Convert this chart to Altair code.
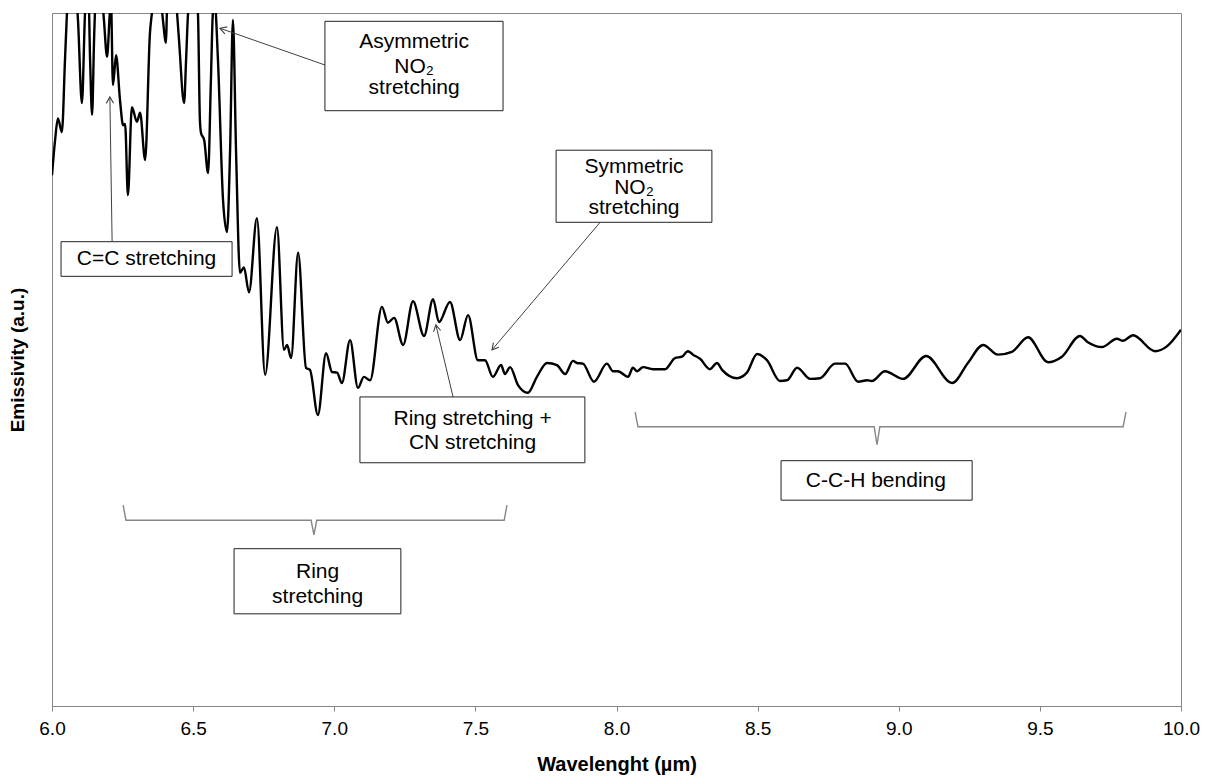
import altair as alt
import pandas as pd

# Emission spectrum: wavelength (µm) and emissivity (a.u., 0-100 scale)
wavelength = [
    6.000, 6.011, 6.021, 6.035, 6.046, 6.053, 6.071, 6.092, 6.106, 6.117,
    6.128, 6.135, 6.142, 6.149, 6.152, 6.167, 6.184, 6.195, 6.205, 6.209,
    6.216, 6.227, 6.241, 6.252, 6.259, 6.269, 6.283, 6.301, 6.312, 6.330,
    6.347, 6.354, 6.376, 6.393, 6.404, 6.407, 6.418, 6.432, 6.443, 6.450,
    6.468, 6.475, 6.482, 6.500, 6.517, 6.524, 6.528, 6.539, 6.553, 6.563,
    6.570, 6.577, 6.588, 6.606, 6.620, 6.631, 6.641, 6.652, 6.666, 6.680,
    6.698, 6.726, 6.755, 6.797, 6.822, 6.833, 6.847, 6.872, 6.900, 6.914,
    6.942, 6.971, 6.992, 7.010, 7.027, 7.056, 7.084, 7.105, 7.127, 7.169,
    7.190, 7.212, 7.244, 7.279, 7.318, 7.350, 7.371, 7.410, 7.446, 7.474,
    7.509, 7.534, 7.562, 7.591, 7.605, 7.623, 7.651, 7.686, 7.718, 7.754,
    7.789, 7.818, 7.846, 7.860, 7.881, 7.920, 7.966, 7.988, 8.005, 8.041,
    8.058, 8.073, 8.094, 8.129, 8.172, 8.207, 8.232, 8.253, 8.271, 8.296,
    8.331, 8.356, 8.374, 8.427, 8.462, 8.498, 8.533, 8.579, 8.604, 8.640,
    8.686, 8.721, 8.774, 8.810, 8.856, 8.888, 8.905, 8.951, 9.015, 9.097,
    9.189, 9.245, 9.299, 9.352, 9.401, 9.458, 9.529, 9.578, 9.642, 9.670,
    9.720, 9.773, 9.794, 9.830, 9.908, 9.950, 10.000,
]
emissivity = [
    76.6, 81.7, 84.8, 82.8, 93.2, 100.0, 107.6, 99.0, 87.0, 100.0,
    104.8, 93.2, 85.3, 96.1, 100.0, 107.6, 99.0, 93.7, 100.0, 101.5,
    89.6, 93.9, 87.4, 83.8, 84.0, 73.7, 86.4, 84.3, 85.6, 78.8,
    97.1, 100.0, 106.2, 99.0, 95.7, 100.0, 106.2, 104.8, 100.0, 96.1,
    87.0, 93.2, 100.0, 106.2, 100.0, 84.6, 82.7, 81.7, 76.9, 90.3,
    100.0, 101.2, 93.2, 73.0, 68.4, 80.2, 99.0, 80.2, 62.5, 63.3,
    59.7, 70.4, 47.8, 69.1, 51.4, 52.1, 50.2, 65.4, 48.8, 48.5,
    42.0, 50.9, 48.2, 48.1, 46.6, 52.8, 45.9, 47.5, 47.0, 57.6,
    55.3, 56.0, 52.1, 58.4, 53.4, 58.7, 55.4, 58.3, 52.8, 56.4,
    49.9, 49.9, 47.5, 49.2, 47.9, 48.9, 46.3, 45.2, 47.5, 49.5,
    49.2, 47.9, 49.8, 49.5, 49.4, 46.8, 49.4, 48.3, 48.3, 47.5,
    48.8, 48.3, 48.9, 48.6, 48.6, 50.2, 50.4, 51.2, 50.7, 50.1,
    48.6, 49.5, 48.5, 47.3, 48.1, 50.8, 49.9, 46.9, 47.0, 48.8,
    47.2, 47.3, 49.4, 49.4, 46.8, 47.0, 46.9, 48.3, 47.2, 50.5,
    46.6, 49.5, 52.1, 50.7, 51.1, 53.2, 49.6, 50.4, 53.4, 52.5,
    51.8, 53.0, 52.7, 53.5, 51.2, 51.9, 54.3,
]

x_ticks = [6.0, 6.5, 7.0, 7.5, 8.0, 8.5, 9.0, 9.5, 10.0]

# Annotation boxes (data coordinates)
box_x1 = [6.032, 6.967, 7.786, 7.091, 8.583, 6.645]
box_x2 = [6.638, 7.598, 8.338, 7.888, 9.260, 7.236]
box_y1 = [62.0, 85.9, 69.8, 35.1, 29.7, 13.3]
box_y2 = [67.0, 98.8, 80.2, 44.6, 35.4, 22.7]

# Annotation text lines
text_labels = ["C=C stretching",
               "Asymmetric", "NO₂", "stretching",
               "Symmetric", "NO₂", "stretching",
               "Ring stretching +", "CN stretching",
               "C-C-H bending",
               "Ring", "stretching"]
text_x = [6.335, 7.283, 7.283, 7.283, 8.062, 8.062, 8.062,
          7.490, 7.490, 8.919, 6.941, 6.941]
text_y = [64.5, 95.8, 92.2, 89.2, 77.8, 74.8, 71.8,
          41.4, 37.9, 32.5, 19.3, 15.7]

# Leader arrows: start at box, end at the band
arrow_x = [6.213, 6.967, 7.942, 7.421]
arrow_y = [67.0, 92.5, 69.8, 44.6]
arrow_x2 = [6.205, 6.595, 7.559, 7.360]
arrow_y2 = [87.9, 97.8, 51.4, 55.0]
arrow_angle = [359, 289, 220, 349]

# Range brackets
brace_id = ["ring"] * 7 + ["cch"] * 7
brace_x = [6.252, 6.262, 6.918, 6.928, 6.938, 7.602, 7.612,
           8.066, 8.076, 8.913, 8.923, 8.933, 9.795, 9.805]
brace_y = [29.0, 26.8, 26.8, 24.7, 26.8, 26.8, 29.0,
           42.4, 40.3, 40.3, 37.7, 40.3, 40.3, 42.4]

FONT = "Liberation Sans"
GRAY = "#868686"

spec = pd.DataFrame({"wavelength": wavelength, "emissivity": emissivity})
boxes = pd.DataFrame({"x1": box_x1, "x2": box_x2, "y1": box_y1, "y2": box_y2})
texts = pd.DataFrame({"x": text_x, "y": text_y, "label": text_labels})
arrows = pd.DataFrame({"x": arrow_x, "y": arrow_y, "x2": arrow_x2,
                       "y2": arrow_y2, "angle": arrow_angle})
braces = pd.DataFrame({"id": brace_id, "x": brace_x, "y": brace_y,
                       "order": list(range(len(brace_x)))})

x_scale = alt.Scale(domain=[6.0, 10.0], nice=False, zero=False)
y_scale = alt.Scale(domain=[0, 100], nice=False, zero=False)

x_axis = alt.Axis(values=x_ticks, format=".1f", title="Wavelenght (µm)",
                  grid=False, tickSize=5, labelPadding=8, labelFlush=False,
                  titlePadding=16, titleFontSize=20)
y_axis = alt.Axis(title="Emissivity (a.u.)", labels=False, ticks=False,
                  grid=False, titlePadding=25)


def px(field):
    return alt.X(field, type="quantitative", scale=x_scale, axis=x_axis)


def py(field):
    return alt.Y(field, type="quantitative", scale=y_scale, axis=y_axis)


line = alt.Chart(spec).mark_line(
    color="black", strokeWidth=2.4, interpolate="monotone", clip=True
).encode(x=px("wavelength"), y=py("emissivity"))

brace = alt.Chart(braces).mark_line(color=GRAY, strokeWidth=1.4).encode(
    x=px("x"), y=py("y"), detail="id:N", order="order:Q",
)

arrow_lines = alt.Chart(arrows).mark_rule(color="#404040", strokeWidth=1).encode(
    x=px("x"), y=py("y"), x2="x2:Q", y2="y2:Q",
)

arrow_heads = alt.Chart(arrows).mark_point(
    shape="M -0.45 0.8 L 0 0 L 0.45 0.8", filled=False, size=260,
    color="#404040", strokeWidth=1.1, opacity=1
).encode(
    x=px("x2"), y=py("y2"), angle=alt.Angle("angle:Q", scale=None),
)

box = alt.Chart(boxes).mark_rect(
    fill="white", stroke="#222222", strokeWidth=1
).encode(
    x=px("x1"), x2="x2:Q", y=py("y1"), y2="y2:Q",
)

label = alt.Chart(texts).mark_text(
    font=FONT, fontSize=21, color="black", align="center", baseline="middle"
).encode(
    x=px("x"), y=py("y"), text="label:N",
)

chart = alt.layer(line, brace, arrow_lines, box, label, arrow_heads).properties(
    width=1129, height=693,
    autosize=alt.AutoSizeParams(type="none"),
    padding={"left": 52, "top": 13, "right": 25, "bottom": 72},
).configure_view(
    stroke=GRAY, strokeWidth=1
).configure_axis(
    domainColor=GRAY, tickColor=GRAY, labelFont=FONT, titleFont=FONT,
    labelFontSize=19, titleFontSize=19, titleFontWeight="bold",
    labelColor="black", titleColor="black",
)

chart.save("out.html", embed_options={"renderer": "svg", "actions": False})
